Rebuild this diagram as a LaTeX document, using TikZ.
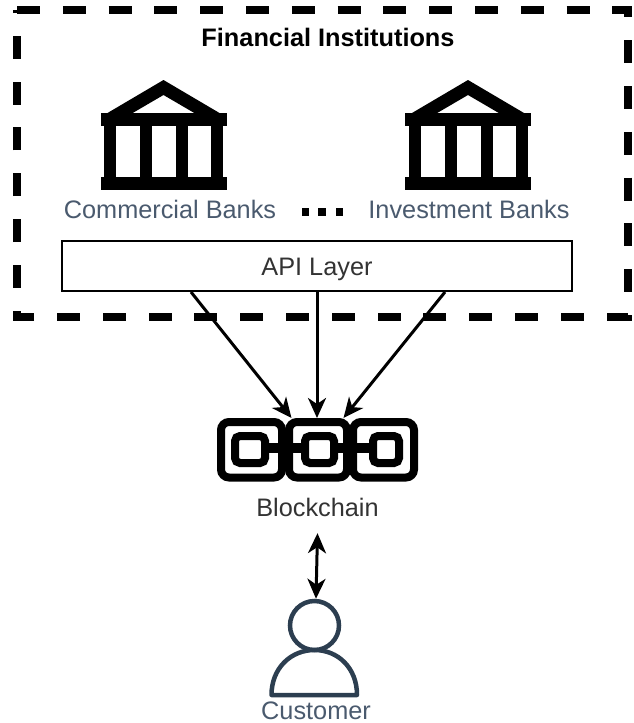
\documentclass[tikz,border=0pt]{standalone}
\usepackage{fontspec}
\setmainfont{Liberation Sans}
\usetikzlibrary{arrows.meta}
\definecolor{labelgray}{HTML}{4A5A6E}
\definecolor{persondark}{HTML}{2C3E50}
\tikzset{
  textlabel/.style={font=\fontsize{25.3}{28}\selectfont, inner sep=0pt, text height=18pt, text depth=0pt},
  dotbox/.style={fill, minimum width=7.5pt, minimum height=8.5pt, inner sep=0pt},
  flow/.style={-{Stealth[length=20pt,width=18pt,inset=6pt]}, line width=3pt},
  bank/.pic={
    \fill (-63,33) rectangle (63,45.5);
    \fill (-63,97) rectangle (63,110);
    \fill[even odd rule] (0,0) -- (56,33) -- (-56,33) -- cycle
      (0,15) -- (-32,33.7) -- (32,33.7) -- cycle;
    \foreach \colx in {-59.5,-23.5,12.5,47.5}
      \fill (\colx,45) rectangle ++(12,53);
  }
}
\begin{document}
\begin{tikzpicture}[x=1pt,y=-1pt]
  \useasboundingbox (0,0) rectangle (634,723);
  % dashed box
  \draw[line width=8pt, dash pattern=on 23pt off 22.8pt] (17,10) -- (628,10) -- (628,316.5) -- (17,316.5) -- cycle;
  \node[textlabel, font=\bfseries\fontsize{25.3}{28}\selectfont] (title) at (328,37) {Financial Institutions};
  % banks
  \pic (bankA) at (163.5,80) {bank};
  \pic (bankB) at (468,80) {bank};
  \node[textlabel, text=labelgray] (commercial) at (170,209) {Commercial Banks};
  \node[textlabel, text=labelgray] (investment) at (469,209) {Investment Banks};
  \node[dotbox] (dotA) at (305.5,212) {};
  \node[dotbox] (dotB) at (322,212) {};
  \node[dotbox] (dotC) at (339.5,212) {};
  \node[draw, line width=2.2pt, minimum width=510pt, minimum height=50pt, textlabel, text=black!80] (api) at (317,266) {API Layer};
  % chain
  \node[minimum width=201pt, minimum height=64pt, inner sep=0pt] (chain) at (317.5,450) {};
  \foreach \linkl/\linkr in {221/282,289/347,353/414}
    \draw[line width=8pt, rounded corners=8pt] (\linkl,422) rectangle (\linkr,477.5);
  \draw[line width=10pt] (265,448) -- (305,448) (334,448) -- (373,448);
  \foreach \innerl/\innerr in {235/265,305/334,373/399}
    \draw[line width=8pt, rounded corners=5pt, fill=white] (\innerl,436) rectangle (\innerr,463);
  \node[textlabel, text=black!80] (blockchain) at (317.5,507) {Blockchain};
  % customer
  \node[circle, draw=persondark, line width=4.5pt, minimum size=49pt, inner sep=0pt] (head) at (314.5,625.5) {};
  \draw[draw=persondark, line width=4.5pt, line join=round] (271.5,695) .. controls (271.5,668) and (291,650) .. (314.5,650) .. controls (338,650) and (357,668) .. (357,695) -- cycle;
  \node[textlabel, text=labelgray] (customer) at (316,710) {Customer};
  % arrows
  \coordinate (apiL) at (191,292);
  \coordinate (apiR) at (445,292);
  \coordinate (chainL) at (291.5,418);
  \coordinate (chainR) at (343.5,418);
  \draw[flow] (apiL) -- (chainL);
  \draw[flow] (api.south) -- (api.south |- chainL);
  \draw[flow] (apiR) -- (chainR);
  \draw[flow, {Stealth[length=20pt,width=18pt,inset=6pt]}-{Stealth[length=20pt,width=18pt,inset=6pt]}] ([yshift=-17pt]blockchain.south) -- ([xshift=1.5pt]head.north);
\end{tikzpicture}
\end{document}
